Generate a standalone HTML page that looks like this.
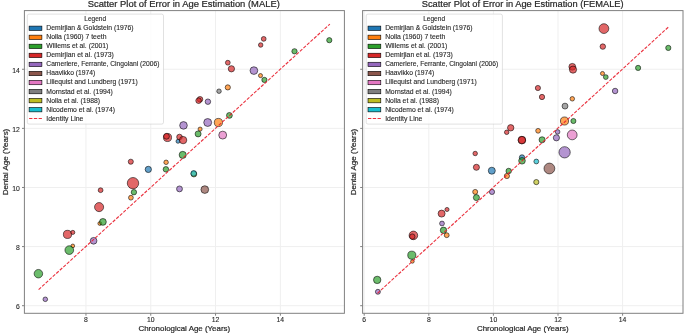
<!DOCTYPE html>
<html><head><meta charset="utf-8"><style>
html,body{margin:0;padding:0;background:#fff;width:685px;height:335px;overflow:hidden}
svg{display:block;will-change:transform;filter:blur(0.3px)}
text{stroke:#262626;stroke-width:0.1px;paint-order:stroke}
.big{stroke-width:0.2px}
</style></head><body>
<svg width="685" height="335" viewBox="0 0 685 335">
<rect width="685" height="335" fill="#fff"/>
<g stroke="#efefef" stroke-width="1">
<line x1="85.96" y1="10.6" x2="85.96" y2="313.3"/>
<line x1="150.76" y1="10.6" x2="150.76" y2="313.3"/>
<line x1="215.56" y1="10.6" x2="215.56" y2="313.3"/>
<line x1="280.36" y1="10.6" x2="280.36" y2="313.3"/>
<line x1="24.4" y1="305.7" x2="344.4" y2="305.7"/>
<line x1="24.4" y1="246.59" x2="344.4" y2="246.59"/>
<line x1="24.4" y1="187.48" x2="344.4" y2="187.48"/>
<line x1="24.4" y1="128.37" x2="344.4" y2="128.37"/>
<line x1="24.4" y1="69.26" x2="344.4" y2="69.26"/>
</g>
<g fill-opacity="0.7" stroke="#000" stroke-opacity="0.7" stroke-width="0.8">
<circle cx="148.3" cy="169.4" r="3.15" fill="#1f77b4"/>
<circle cx="178.0" cy="141.3" r="2.00" fill="#1f77b4"/>
<circle cx="72.8" cy="245.9" r="1.85" fill="#ff7f0e"/>
<circle cx="99.8" cy="223.5" r="1.90" fill="#ff7f0e"/>
<circle cx="130.9" cy="197.7" r="2.40" fill="#ff7f0e"/>
<circle cx="166.1" cy="162.3" r="2.25" fill="#ff7f0e"/>
<circle cx="200.1" cy="129.1" r="2.05" fill="#ff7f0e"/>
<circle cx="218.4" cy="122.5" r="4.10" fill="#ff7f0e"/>
<circle cx="227.8" cy="87.4" r="2.60" fill="#ff7f0e"/>
<circle cx="260.5" cy="75.6" r="2.05" fill="#ff7f0e"/>
<circle cx="38.4" cy="273.7" r="4.25" fill="#2ca02c"/>
<circle cx="69.3" cy="250.1" r="4.35" fill="#2ca02c"/>
<circle cx="102.9" cy="221.9" r="3.40" fill="#2ca02c"/>
<circle cx="133.9" cy="192.2" r="2.70" fill="#2ca02c"/>
<circle cx="165.9" cy="169.3" r="2.75" fill="#2ca02c"/>
<circle cx="182.7" cy="154.9" r="3.55" fill="#2ca02c"/>
<circle cx="198.1" cy="133.9" r="3.00" fill="#2ca02c"/>
<circle cx="229.4" cy="115.4" r="2.90" fill="#2ca02c"/>
<circle cx="264.4" cy="79.9" r="2.60" fill="#2ca02c"/>
<circle cx="294.5" cy="51.3" r="2.65" fill="#2ca02c"/>
<circle cx="329.3" cy="40.2" r="2.60" fill="#2ca02c"/>
<circle cx="67.5" cy="234.4" r="4.10" fill="#d62728"/>
<circle cx="72.8" cy="232.4" r="2.05" fill="#d62728"/>
<circle cx="100.6" cy="190.2" r="2.40" fill="#d62728"/>
<circle cx="99.1" cy="207.1" r="4.55" fill="#d62728"/>
<circle cx="133.0" cy="183.2" r="5.70" fill="#d62728"/>
<circle cx="130.8" cy="161.7" r="2.55" fill="#d62728"/>
<circle cx="167.5" cy="137.5" r="4.05" fill="#d62728"/>
<circle cx="166.5" cy="136.3" r="2.90" fill="#d62728"/>
<circle cx="179.5" cy="137.0" r="2.80" fill="#d62728"/>
<circle cx="183.1" cy="140.1" r="3.70" fill="#d62728"/>
<circle cx="200.0" cy="99.3" r="2.80" fill="#d62728"/>
<circle cx="198.6" cy="100.7" r="2.80" fill="#d62728"/>
<circle cx="227.8" cy="62.7" r="2.40" fill="#d62728"/>
<circle cx="231.4" cy="68.8" r="3.15" fill="#d62728"/>
<circle cx="263.7" cy="38.9" r="2.40" fill="#d62728"/>
<circle cx="260.7" cy="45.0" r="2.25" fill="#d62728"/>
<circle cx="45.3" cy="299.3" r="2.30" fill="#9467bd"/>
<circle cx="93.6" cy="240.8" r="3.35" fill="#9467bd"/>
<circle cx="183.5" cy="125.4" r="3.80" fill="#9467bd"/>
<circle cx="179.5" cy="188.9" r="2.95" fill="#9467bd"/>
<circle cx="207.7" cy="122.5" r="3.95" fill="#9467bd"/>
<circle cx="207.9" cy="101.7" r="2.75" fill="#9467bd"/>
<circle cx="253.9" cy="70.6" r="3.85" fill="#9467bd"/>
<circle cx="204.8" cy="189.6" r="3.85" fill="#8c564b"/>
<circle cx="222.7" cy="135.1" r="3.95" fill="#e377c2"/>
<circle cx="219.0" cy="91.2" r="2.25" fill="#7f7f7f"/>
<circle cx="193.9" cy="174.1" r="2.85" fill="#bcbd22"/>
<circle cx="193.7" cy="173.4" r="2.85" fill="#17becf"/>
</g>
<line x1="38.43" y1="289.74" x2="329.88" y2="24.04" stroke="#e8202e" stroke-opacity="0.92" stroke-width="1.1" stroke-dasharray="3.335 1.443" stroke-dashoffset="-0.25"/>
<rect x="27.3" y="14.1" width="136.2" height="110.0" rx="1.8" fill="#fff" fill-opacity="0.8" stroke="#cccccc" stroke-width="0.6"/>
<text x="95.2" y="20.8" font-family="Liberation Sans, sans-serif" font-size="6.32" fill="#262626" text-anchor="middle" textLength="21.9" lengthAdjust="spacingAndGlyphs">Legend</text>
<rect x="29.1" y="26.10" width="12.8" height="4.4" fill="#1f77b4" stroke="#000" stroke-width="0.6"/>
<text x="46.3" y="30.25" font-family="Liberation Sans, sans-serif" font-size="6.32" fill="#262626" textLength="87.30" lengthAdjust="spacingAndGlyphs">Demirjian &amp; Goldstein (1976)</text>
<rect x="29.1" y="35.14" width="12.8" height="4.4" fill="#ff7f0e" stroke="#000" stroke-width="0.6"/>
<text x="46.3" y="39.29" font-family="Liberation Sans, sans-serif" font-size="6.32" fill="#262626" textLength="60.15" lengthAdjust="spacingAndGlyphs">Nolla (1960) 7 teeth</text>
<rect x="29.1" y="44.18" width="12.8" height="4.4" fill="#2ca02c" stroke="#000" stroke-width="0.6"/>
<text x="46.3" y="48.33" font-family="Liberation Sans, sans-serif" font-size="6.32" fill="#262626" textLength="62.02" lengthAdjust="spacingAndGlyphs">Willems et al. (2001)</text>
<rect x="29.1" y="53.22" width="12.8" height="4.4" fill="#d62728" stroke="#000" stroke-width="0.6"/>
<text x="46.3" y="57.37" font-family="Liberation Sans, sans-serif" font-size="6.32" fill="#262626" textLength="67.62" lengthAdjust="spacingAndGlyphs">Demirjian et al. (1973)</text>
<rect x="29.1" y="62.26" width="12.8" height="4.4" fill="#9467bd" stroke="#000" stroke-width="0.6"/>
<text x="46.3" y="66.41" font-family="Liberation Sans, sans-serif" font-size="6.32" fill="#262626" textLength="113.10" lengthAdjust="spacingAndGlyphs">Cameriere, Ferrante, Cingolani (2006)</text>
<rect x="29.1" y="71.30" width="12.8" height="4.4" fill="#8c564b" stroke="#000" stroke-width="0.6"/>
<text x="46.3" y="75.45" font-family="Liberation Sans, sans-serif" font-size="6.32" fill="#262626" textLength="49.02" lengthAdjust="spacingAndGlyphs">Haavikko (1974)</text>
<rect x="29.1" y="80.34" width="12.8" height="4.4" fill="#e377c2" stroke="#000" stroke-width="0.6"/>
<text x="46.3" y="84.49" font-family="Liberation Sans, sans-serif" font-size="6.32" fill="#262626" textLength="91.46" lengthAdjust="spacingAndGlyphs">Liliequist and Lundberg (1971)</text>
<rect x="29.1" y="89.38" width="12.8" height="4.4" fill="#7f7f7f" stroke="#000" stroke-width="0.6"/>
<text x="46.3" y="93.53" font-family="Liberation Sans, sans-serif" font-size="6.32" fill="#262626" textLength="66.50" lengthAdjust="spacingAndGlyphs">Mornstad et al. (1994)</text>
<rect x="29.1" y="98.42" width="12.8" height="4.4" fill="#bcbd22" stroke="#000" stroke-width="0.6"/>
<text x="46.3" y="102.57" font-family="Liberation Sans, sans-serif" font-size="6.32" fill="#262626" textLength="53.78" lengthAdjust="spacingAndGlyphs">Nolla et al. (1988)</text>
<rect x="29.1" y="107.46" width="12.8" height="4.4" fill="#17becf" stroke="#000" stroke-width="0.6"/>
<text x="46.3" y="111.61" font-family="Liberation Sans, sans-serif" font-size="6.32" fill="#262626" textLength="68.65" lengthAdjust="spacingAndGlyphs">Nicodemo et al. (1974)</text>
<line x1="29.1" y1="118.5" x2="41.9" y2="118.5" stroke="#e8202e" stroke-opacity="0.92" stroke-width="1.1" stroke-dasharray="3.33 1.44"/>
<text x="46.3" y="120.65" font-family="Liberation Sans, sans-serif" font-size="6.32" fill="#262626" textLength="37.16" lengthAdjust="spacingAndGlyphs">Identity Line</text>
<rect x="24.4" y="10.6" width="320.0" height="302.7" fill="none" stroke="#808080" stroke-width="1"/>
<g stroke="#808080" stroke-width="1">
<line x1="85.96" y1="313.3" x2="85.96" y2="315.7"/>
<line x1="150.76" y1="313.3" x2="150.76" y2="315.7"/>
<line x1="215.56" y1="313.3" x2="215.56" y2="315.7"/>
<line x1="280.36" y1="313.3" x2="280.36" y2="315.7"/>
<line x1="22.0" y1="305.7" x2="24.4" y2="305.7"/>
<line x1="22.0" y1="246.59" x2="24.4" y2="246.59"/>
<line x1="22.0" y1="187.48" x2="24.4" y2="187.48"/>
<line x1="22.0" y1="128.37" x2="24.4" y2="128.37"/>
<line x1="22.0" y1="69.26" x2="24.4" y2="69.26"/>
</g>
<text x="85.96" y="321.8" font-family="Liberation Sans, sans-serif" font-size="6.32" fill="#262626" text-anchor="middle" textLength="3.79" lengthAdjust="spacingAndGlyphs">8</text>
<text x="150.76" y="321.8" font-family="Liberation Sans, sans-serif" font-size="6.32" fill="#262626" text-anchor="middle" textLength="7.58" lengthAdjust="spacingAndGlyphs">10</text>
<text x="215.56" y="321.8" font-family="Liberation Sans, sans-serif" font-size="6.32" fill="#262626" text-anchor="middle" textLength="7.58" lengthAdjust="spacingAndGlyphs">12</text>
<text x="280.36" y="321.8" font-family="Liberation Sans, sans-serif" font-size="6.32" fill="#262626" text-anchor="middle" textLength="7.58" lengthAdjust="spacingAndGlyphs">14</text>
<text x="19.799999999999997" y="309.00" font-family="Liberation Sans, sans-serif" font-size="6.32" fill="#262626" text-anchor="end" textLength="3.79" lengthAdjust="spacingAndGlyphs">6</text>
<text x="19.799999999999997" y="249.89" font-family="Liberation Sans, sans-serif" font-size="6.32" fill="#262626" text-anchor="end" textLength="3.79" lengthAdjust="spacingAndGlyphs">8</text>
<text x="19.799999999999997" y="190.78" font-family="Liberation Sans, sans-serif" font-size="6.32" fill="#262626" text-anchor="end" textLength="7.58" lengthAdjust="spacingAndGlyphs">10</text>
<text x="19.799999999999997" y="131.67" font-family="Liberation Sans, sans-serif" font-size="6.32" fill="#262626" text-anchor="end" textLength="7.58" lengthAdjust="spacingAndGlyphs">12</text>
<text x="19.799999999999997" y="72.56" font-family="Liberation Sans, sans-serif" font-size="6.32" fill="#262626" text-anchor="end" textLength="7.58" lengthAdjust="spacingAndGlyphs">14</text>
<text x="87.7" y="7.0" font-family="Liberation Sans, sans-serif" font-size="8.92" fill="#262626" class="big" textLength="192.1" lengthAdjust="spacingAndGlyphs">Scatter Plot of Error in Age Estimation (MALE)</text>
<text x="184.3" y="331.4" font-family="Liberation Sans, sans-serif" font-size="7.59" fill="#262626" class="big" text-anchor="middle" textLength="91.72" lengthAdjust="spacingAndGlyphs">Chronological Age (Years)</text>
<text transform="translate(7.6,162) rotate(-90)" x="0" y="0" font-family="Liberation Sans, sans-serif" font-size="7.59" fill="#262626" class="big" text-anchor="middle" textLength="66.52" lengthAdjust="spacingAndGlyphs">Dental Age (Years)</text>
<g stroke="#efefef" stroke-width="1">
<line x1="364.2" y1="10.6" x2="364.2" y2="313.3"/>
<line x1="428.8" y1="10.6" x2="428.8" y2="313.3"/>
<line x1="493.4" y1="10.6" x2="493.4" y2="313.3"/>
<line x1="558.0" y1="10.6" x2="558.0" y2="313.3"/>
<line x1="622.6" y1="10.6" x2="622.6" y2="313.3"/>
<line x1="362.6" y1="305.7" x2="683.0" y2="305.7"/>
<line x1="362.6" y1="246.59" x2="683.0" y2="246.59"/>
<line x1="362.6" y1="187.48" x2="683.0" y2="187.48"/>
<line x1="362.6" y1="128.37" x2="683.0" y2="128.37"/>
<line x1="362.6" y1="69.26" x2="683.0" y2="69.26"/>
</g>
<g fill-opacity="0.7" stroke="#000" stroke-opacity="0.7" stroke-width="0.8">
<circle cx="491.8" cy="170.7" r="3.50" fill="#1f77b4"/>
<circle cx="522.0" cy="157.4" r="2.65" fill="#1f77b4"/>
<circle cx="412.4" cy="261.4" r="1.80" fill="#ff7f0e"/>
<circle cx="446.7" cy="235.2" r="2.45" fill="#ff7f0e"/>
<circle cx="475.2" cy="191.9" r="2.50" fill="#ff7f0e"/>
<circle cx="506.9" cy="176.0" r="2.60" fill="#ff7f0e"/>
<circle cx="538.1" cy="130.8" r="2.40" fill="#ff7f0e"/>
<circle cx="564.5" cy="121.0" r="4.05" fill="#ff7f0e"/>
<circle cx="572.3" cy="98.8" r="2.25" fill="#ff7f0e"/>
<circle cx="602.5" cy="73.5" r="2.05" fill="#ff7f0e"/>
<circle cx="377.2" cy="279.9" r="3.70" fill="#2ca02c"/>
<circle cx="411.8" cy="255.2" r="4.05" fill="#2ca02c"/>
<circle cx="443.5" cy="230.3" r="3.20" fill="#2ca02c"/>
<circle cx="476.4" cy="197.6" r="3.05" fill="#2ca02c"/>
<circle cx="508.7" cy="171.0" r="2.75" fill="#2ca02c"/>
<circle cx="522.0" cy="160.8" r="3.30" fill="#2ca02c"/>
<circle cx="542.1" cy="139.8" r="3.05" fill="#2ca02c"/>
<circle cx="573.4" cy="121.0" r="2.55" fill="#2ca02c"/>
<circle cx="605.8" cy="77.1" r="2.40" fill="#2ca02c"/>
<circle cx="638.1" cy="67.9" r="2.60" fill="#2ca02c"/>
<circle cx="668.3" cy="47.9" r="2.60" fill="#2ca02c"/>
<circle cx="413.4" cy="235.4" r="4.30" fill="#d62728"/>
<circle cx="412.3" cy="236.6" r="2.70" fill="#d62728"/>
<circle cx="441.6" cy="213.6" r="3.50" fill="#d62728"/>
<circle cx="447.0" cy="209.5" r="2.05" fill="#d62728"/>
<circle cx="475.2" cy="153.5" r="2.25" fill="#d62728"/>
<circle cx="476.4" cy="167.3" r="3.05" fill="#d62728"/>
<circle cx="510.7" cy="127.8" r="3.20" fill="#d62728"/>
<circle cx="506.7" cy="132.3" r="2.25" fill="#d62728"/>
<circle cx="521.9" cy="140.1" r="3.80" fill="#d62728"/>
<circle cx="521.9" cy="140.1" r="3.70" fill="#d62728"/>
<circle cx="542.0" cy="97.0" r="2.65" fill="#d62728"/>
<circle cx="537.9" cy="88.0" r="2.60" fill="#d62728"/>
<circle cx="572.3" cy="66.8" r="3.40" fill="#d62728"/>
<circle cx="573.0" cy="69.6" r="3.60" fill="#d62728"/>
<circle cx="603.9" cy="28.6" r="4.90" fill="#d62728"/>
<circle cx="602.8" cy="46.6" r="2.75" fill="#d62728"/>
<circle cx="377.9" cy="291.8" r="2.50" fill="#9467bd"/>
<circle cx="442.0" cy="223.5" r="2.40" fill="#9467bd"/>
<circle cx="492.0" cy="191.9" r="2.60" fill="#9467bd"/>
<circle cx="557.6" cy="131.9" r="2.30" fill="#9467bd"/>
<circle cx="556.4" cy="137.8" r="3.10" fill="#9467bd"/>
<circle cx="564.6" cy="152.3" r="5.65" fill="#9467bd"/>
<circle cx="615.1" cy="91.0" r="2.75" fill="#9467bd"/>
<circle cx="549.4" cy="168.5" r="5.40" fill="#8c564b"/>
<circle cx="572.2" cy="134.9" r="4.90" fill="#e377c2"/>
<circle cx="565.0" cy="106.1" r="2.95" fill="#7f7f7f"/>
<circle cx="536.3" cy="182.1" r="2.60" fill="#bcbd22"/>
<circle cx="536.3" cy="161.5" r="2.40" fill="#17becf"/>
</g>
<line x1="377.44" y1="293.3" x2="668.47" y2="27.0" stroke="#e8202e" stroke-opacity="0.92" stroke-width="1.1" stroke-dasharray="3.327 1.439" stroke-dashoffset="-0.0"/>
<rect x="366.2" y="14.1" width="136.2" height="110.0" rx="1.8" fill="#fff" fill-opacity="0.8" stroke="#cccccc" stroke-width="0.6"/>
<text x="434.1" y="20.8" font-family="Liberation Sans, sans-serif" font-size="6.32" fill="#262626" text-anchor="middle" textLength="21.9" lengthAdjust="spacingAndGlyphs">Legend</text>
<rect x="368.0" y="26.10" width="12.8" height="4.4" fill="#1f77b4" stroke="#000" stroke-width="0.6"/>
<text x="385.2" y="30.25" font-family="Liberation Sans, sans-serif" font-size="6.32" fill="#262626" textLength="87.30" lengthAdjust="spacingAndGlyphs">Demirjian &amp; Goldstein (1976)</text>
<rect x="368.0" y="35.14" width="12.8" height="4.4" fill="#ff7f0e" stroke="#000" stroke-width="0.6"/>
<text x="385.2" y="39.29" font-family="Liberation Sans, sans-serif" font-size="6.32" fill="#262626" textLength="60.15" lengthAdjust="spacingAndGlyphs">Nolla (1960) 7 teeth</text>
<rect x="368.0" y="44.18" width="12.8" height="4.4" fill="#2ca02c" stroke="#000" stroke-width="0.6"/>
<text x="385.2" y="48.33" font-family="Liberation Sans, sans-serif" font-size="6.32" fill="#262626" textLength="62.02" lengthAdjust="spacingAndGlyphs">Willems et al. (2001)</text>
<rect x="368.0" y="53.22" width="12.8" height="4.4" fill="#d62728" stroke="#000" stroke-width="0.6"/>
<text x="385.2" y="57.37" font-family="Liberation Sans, sans-serif" font-size="6.32" fill="#262626" textLength="67.62" lengthAdjust="spacingAndGlyphs">Demirjian et al. (1973)</text>
<rect x="368.0" y="62.26" width="12.8" height="4.4" fill="#9467bd" stroke="#000" stroke-width="0.6"/>
<text x="385.2" y="66.41" font-family="Liberation Sans, sans-serif" font-size="6.32" fill="#262626" textLength="113.10" lengthAdjust="spacingAndGlyphs">Cameriere, Ferrante, Cingolani (2006)</text>
<rect x="368.0" y="71.30" width="12.8" height="4.4" fill="#8c564b" stroke="#000" stroke-width="0.6"/>
<text x="385.2" y="75.45" font-family="Liberation Sans, sans-serif" font-size="6.32" fill="#262626" textLength="49.02" lengthAdjust="spacingAndGlyphs">Haavikko (1974)</text>
<rect x="368.0" y="80.34" width="12.8" height="4.4" fill="#e377c2" stroke="#000" stroke-width="0.6"/>
<text x="385.2" y="84.49" font-family="Liberation Sans, sans-serif" font-size="6.32" fill="#262626" textLength="91.46" lengthAdjust="spacingAndGlyphs">Liliequist and Lundberg (1971)</text>
<rect x="368.0" y="89.38" width="12.8" height="4.4" fill="#7f7f7f" stroke="#000" stroke-width="0.6"/>
<text x="385.2" y="93.53" font-family="Liberation Sans, sans-serif" font-size="6.32" fill="#262626" textLength="66.50" lengthAdjust="spacingAndGlyphs">Mornstad et al. (1994)</text>
<rect x="368.0" y="98.42" width="12.8" height="4.4" fill="#bcbd22" stroke="#000" stroke-width="0.6"/>
<text x="385.2" y="102.57" font-family="Liberation Sans, sans-serif" font-size="6.32" fill="#262626" textLength="53.78" lengthAdjust="spacingAndGlyphs">Nolla et al. (1988)</text>
<rect x="368.0" y="107.46" width="12.8" height="4.4" fill="#17becf" stroke="#000" stroke-width="0.6"/>
<text x="385.2" y="111.61" font-family="Liberation Sans, sans-serif" font-size="6.32" fill="#262626" textLength="68.65" lengthAdjust="spacingAndGlyphs">Nicodemo et al. (1974)</text>
<line x1="368.0" y1="118.5" x2="380.8" y2="118.5" stroke="#e8202e" stroke-opacity="0.92" stroke-width="1.1" stroke-dasharray="3.33 1.44"/>
<text x="385.2" y="120.65" font-family="Liberation Sans, sans-serif" font-size="6.32" fill="#262626" textLength="37.16" lengthAdjust="spacingAndGlyphs">Identity Line</text>
<rect x="362.6" y="10.6" width="320.4" height="302.7" fill="none" stroke="#808080" stroke-width="1"/>
<g stroke="#808080" stroke-width="1">
<line x1="364.2" y1="313.3" x2="364.2" y2="315.7"/>
<line x1="428.8" y1="313.3" x2="428.8" y2="315.7"/>
<line x1="493.4" y1="313.3" x2="493.4" y2="315.7"/>
<line x1="558.0" y1="313.3" x2="558.0" y2="315.7"/>
<line x1="622.6" y1="313.3" x2="622.6" y2="315.7"/>
<line x1="360.20000000000005" y1="305.7" x2="362.6" y2="305.7"/>
<line x1="360.20000000000005" y1="246.59" x2="362.6" y2="246.59"/>
<line x1="360.20000000000005" y1="187.48" x2="362.6" y2="187.48"/>
<line x1="360.20000000000005" y1="128.37" x2="362.6" y2="128.37"/>
<line x1="360.20000000000005" y1="69.26" x2="362.6" y2="69.26"/>
</g>
<text x="364.2" y="321.8" font-family="Liberation Sans, sans-serif" font-size="6.32" fill="#262626" text-anchor="middle" textLength="3.79" lengthAdjust="spacingAndGlyphs">6</text>
<text x="428.8" y="321.8" font-family="Liberation Sans, sans-serif" font-size="6.32" fill="#262626" text-anchor="middle" textLength="3.79" lengthAdjust="spacingAndGlyphs">8</text>
<text x="493.4" y="321.8" font-family="Liberation Sans, sans-serif" font-size="6.32" fill="#262626" text-anchor="middle" textLength="7.58" lengthAdjust="spacingAndGlyphs">10</text>
<text x="558.0" y="321.8" font-family="Liberation Sans, sans-serif" font-size="6.32" fill="#262626" text-anchor="middle" textLength="7.58" lengthAdjust="spacingAndGlyphs">12</text>
<text x="622.6" y="321.8" font-family="Liberation Sans, sans-serif" font-size="6.32" fill="#262626" text-anchor="middle" textLength="7.58" lengthAdjust="spacingAndGlyphs">14</text>
<text x="421.75" y="7.0" font-family="Liberation Sans, sans-serif" font-size="8.92" fill="#262626" class="big" textLength="201.9" lengthAdjust="spacingAndGlyphs">Scatter Plot of Error in Age Estimation (FEMALE)</text>
<text x="522.8" y="331.4" font-family="Liberation Sans, sans-serif" font-size="7.59" fill="#262626" class="big" text-anchor="middle" textLength="91.72" lengthAdjust="spacingAndGlyphs">Chronological Age (Years)</text>
<text transform="translate(356.0,162) rotate(-90)" x="0" y="0" font-family="Liberation Sans, sans-serif" font-size="7.59" fill="#262626" class="big" text-anchor="middle" textLength="66.52" lengthAdjust="spacingAndGlyphs">Dental Age (Years)</text>
</svg>
</body></html>
